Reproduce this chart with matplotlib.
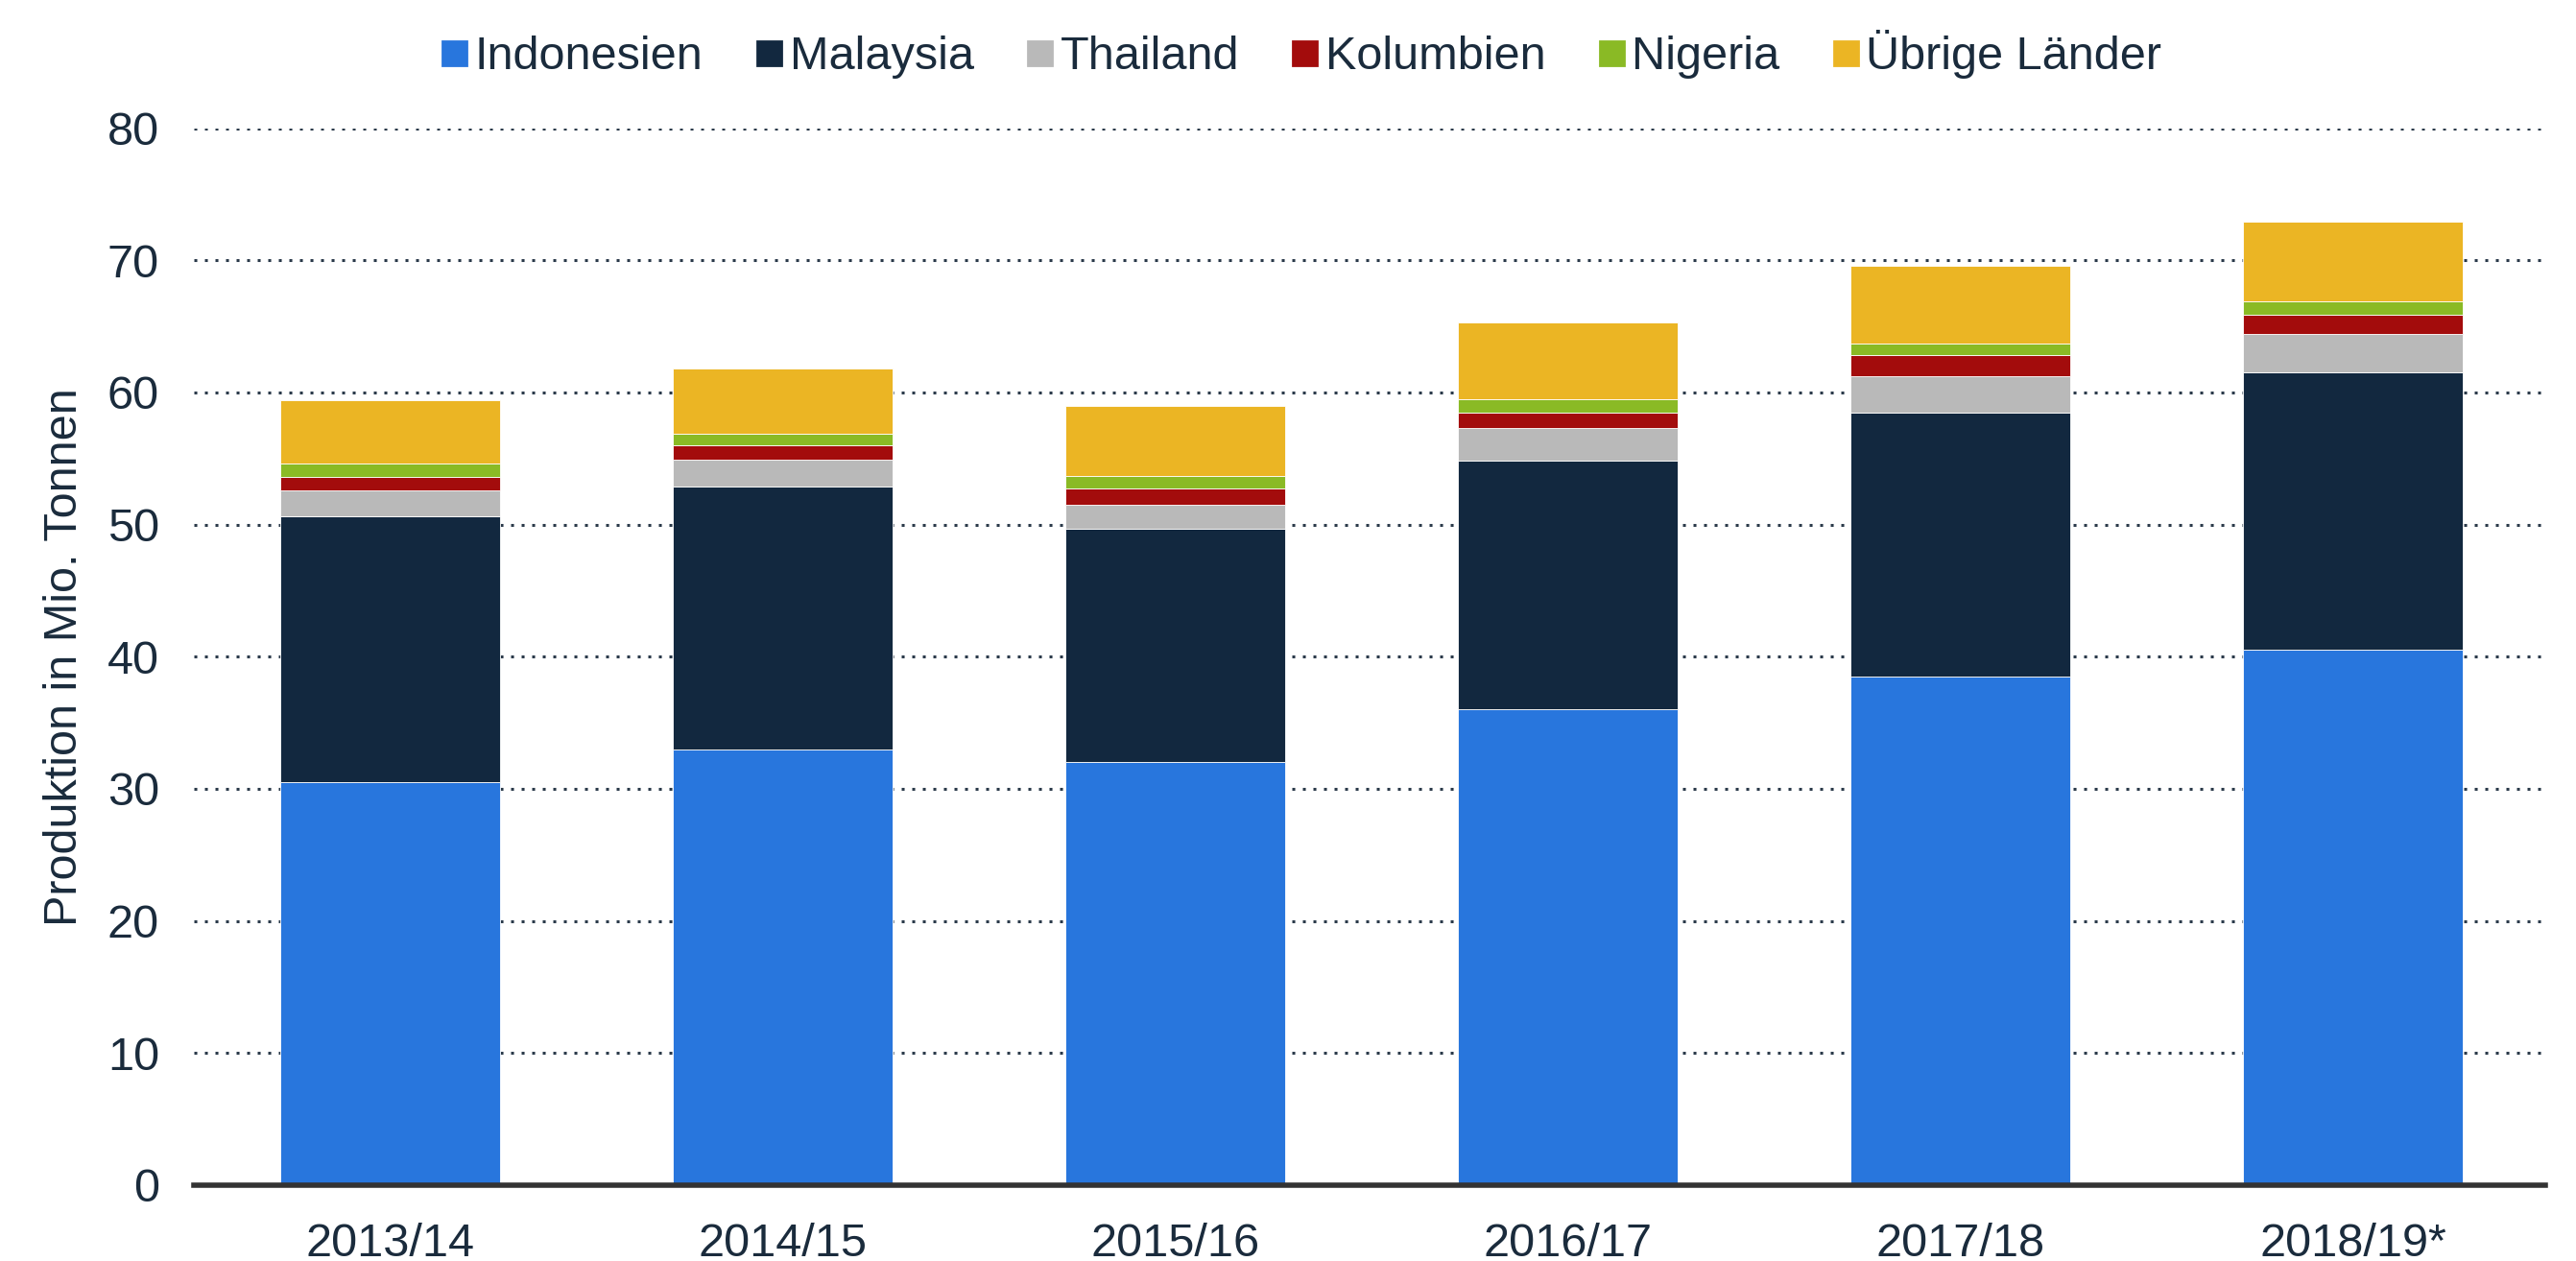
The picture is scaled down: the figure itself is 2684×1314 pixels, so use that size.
import matplotlib
matplotlib.use("Agg")
import matplotlib.pyplot as plt
from matplotlib.lines import Line2D
import numpy as np

seasons = ["2013/14", "2014/15", "2015/16", "2016/17", "2017/18", "2018/19*"]
countries = ["Indonesien", "Malaysia", "Thailand", "Kolumbien", "Nigeria", "Übrige Länder"]
indonesien = [30.5, 33.0, 32.0, 36.0, 38.5, 40.5]
malaysia = [20.1, 19.9, 17.7, 18.8, 20.0, 21.0]
thailand = [2.0, 2.0, 1.8, 2.5, 2.7, 2.9]
kolumbien = [1.0, 1.1, 1.2, 1.2, 1.6, 1.5]
nigeria = [1.0, 0.9, 1.0, 1.0, 0.9, 1.0]
uebrige = [4.8, 4.9, 5.3, 5.8, 5.9, 6.0]
colors = ["#2876dd", "#12283f", "#b9b9b9", "#a30c0c", "#8aba25", "#ebb524"]
y_ticks = [0, 10, 20, 30, 40, 50, 60, 70, 80]
y_label = "Produktion in Mio. Tonnen"

series = [indonesien, malaysia, thailand, kolumbien, nigeria, uebrige]
text_color = "#1a2b3c"

plt.rcParams['font.family'] = ['Liberation Sans', 'DejaVu Sans']

fig = plt.figure(figsize=(13.42, 6.57), dpi=200)
ax = fig.add_axes([202/2684, 1 - 1235/1314, (2652-202)/2684, (1235-133.5)/1314])

x = np.arange(len(seasons))
bottom = np.zeros(len(seasons))
for vals, col in zip(series, colors):
    ax.bar(x, vals, width=0.56, bottom=bottom, color=col, edgecolor='white', linewidth=0.3, zorder=3)
    bottom += np.array(vals)

ax.set_xlim(-0.5, 5.49)
ax.set_ylim(0, 80)
ax.set_yticks(y_ticks)
ax.set_xticks(x)
ax.set_xticklabels(seasons)
for t in y_ticks[1:]:
    ax.axhline(t, color="#2b3a4a", linewidth=1.1, linestyle=(0, (1, 2.6)), zorder=1)

for s in ['top', 'right', 'left']:
    ax.spines[s].set_visible(False)
ax.spines['bottom'].set_color('#333333')
ax.spines['bottom'].set_linewidth(2.0)
ax.spines['bottom'].set_zorder(4)

fs = 17.5
ax.tick_params(axis='both', length=0, labelsize=fs, colors=text_color)
ax.tick_params(axis='x', pad=14)
ax.tick_params(axis='y', pad=13)
ax.set_ylabel(y_label, fontsize=fs, color=text_color, labelpad=8)

handles = [Line2D([0], [0], marker='s', linestyle='none', markersize=9,
                  markerfacecolor=c, markeredgecolor=c) for c in colors]
fig.legend(handles, countries, loc='center', bbox_to_anchor=(0.505, 0.957), ncol=6,
           frameon=False, fontsize=fs, handlelength=0.6, handletextpad=0.15,
           columnspacing=1.1, labelcolor=text_color)

fig.savefig("out.png", dpi=200, facecolor='white')
